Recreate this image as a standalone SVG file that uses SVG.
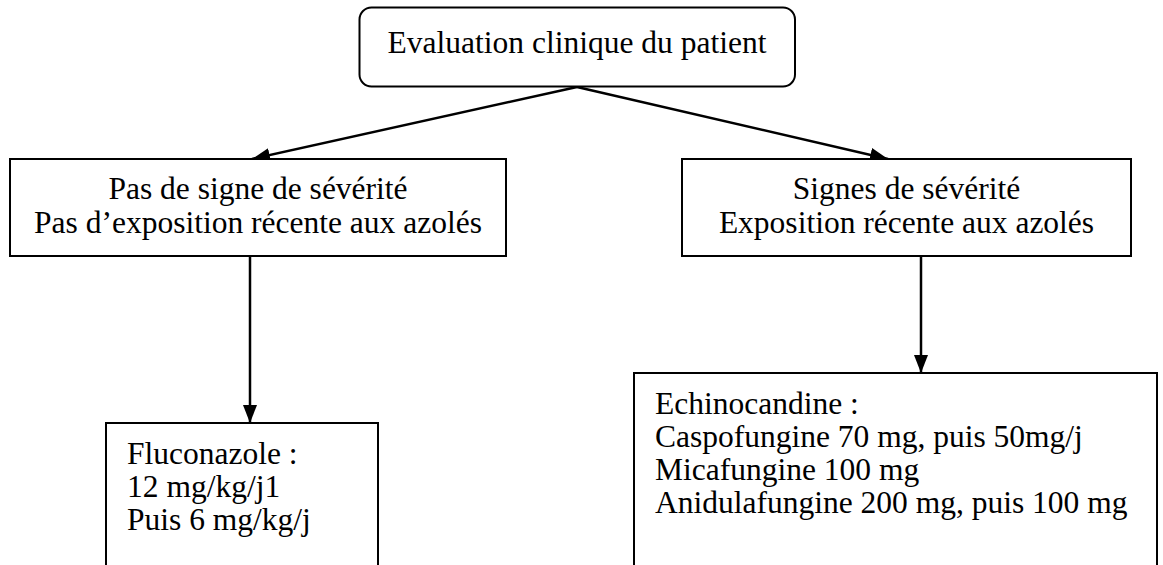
<svg xmlns="http://www.w3.org/2000/svg" width="1163" height="565" viewBox="0 0 1163 565">
<style>
.box{fill:#fff;stroke:#000;stroke-width:2}
.t{font-family:"Liberation Serif","Times New Roman",serif;font-size:31.5px;fill:#000}
.c{text-anchor:middle}
.conn{stroke:#000;stroke-width:2.5;fill:none}
</style>
<defs>
<marker id="ah" markerUnits="userSpaceOnUse" markerWidth="20" markerHeight="16" refX="18" refY="8" orient="auto">
<path d="M0,1 L18,8 L0,15 z" fill="#000"/>
</marker>
</defs>
<rect width="1163" height="565" fill="#fff"/>
<g id="connectors">
<line class="conn" x1="577" y1="87" x2="252" y2="159" marker-end="url(#ah)"/>
<line class="conn" x1="577" y1="87" x2="888" y2="159" marker-end="url(#ah)"/>
<line class="conn" x1="250" y1="256" x2="250" y2="423" marker-end="url(#ah)"/>
<line class="conn" x1="921" y1="256" x2="921" y2="373" marker-end="url(#ah)"/>
</g>
<g id="n-eval">
<rect class="box" x="359.5" y="7.5" width="435.5" height="79" rx="12"/>
<text class="t c" x="577" y="52.5">Evaluation clinique du patient</text>
</g>
<g id="n-nonsevere">
<rect class="box" x="10" y="159" width="496" height="97"/>
<text class="t c" x="258" y="199">Pas de signe de sévérité</text>
<text class="t c" x="258" y="233">Pas d’exposition récente aux azolés</text>
</g>
<g id="n-severe">
<rect class="box" x="682" y="159" width="449" height="97"/>
<text class="t c" x="906.5" y="199">Signes de sévérité</text>
<text class="t c" x="906.5" y="233">Exposition récente aux azolés</text>
</g>
<g id="n-fluconazole">
<rect class="box" x="106" y="423" width="272" height="160"/>
<text class="t" x="127" y="464">Fluconazole :</text>
<text class="t" x="127" y="497">12 mg/kg/j1</text>
<text class="t" x="127" y="530">Puis 6 mg/kg/j</text>
</g>
<g id="n-echinocandine">
<rect class="box" x="634" y="373" width="523" height="210"/>
<text class="t" x="655" y="414">Echinocandine :</text>
<text class="t" x="655" y="447">Caspofungine 70 mg, puis 50mg/j</text>
<text class="t" x="655" y="480">Micafungine 100 mg</text>
<text class="t" x="655" y="513">Anidulafungine 200 mg, puis 100 mg</text>
</g>
</svg>
